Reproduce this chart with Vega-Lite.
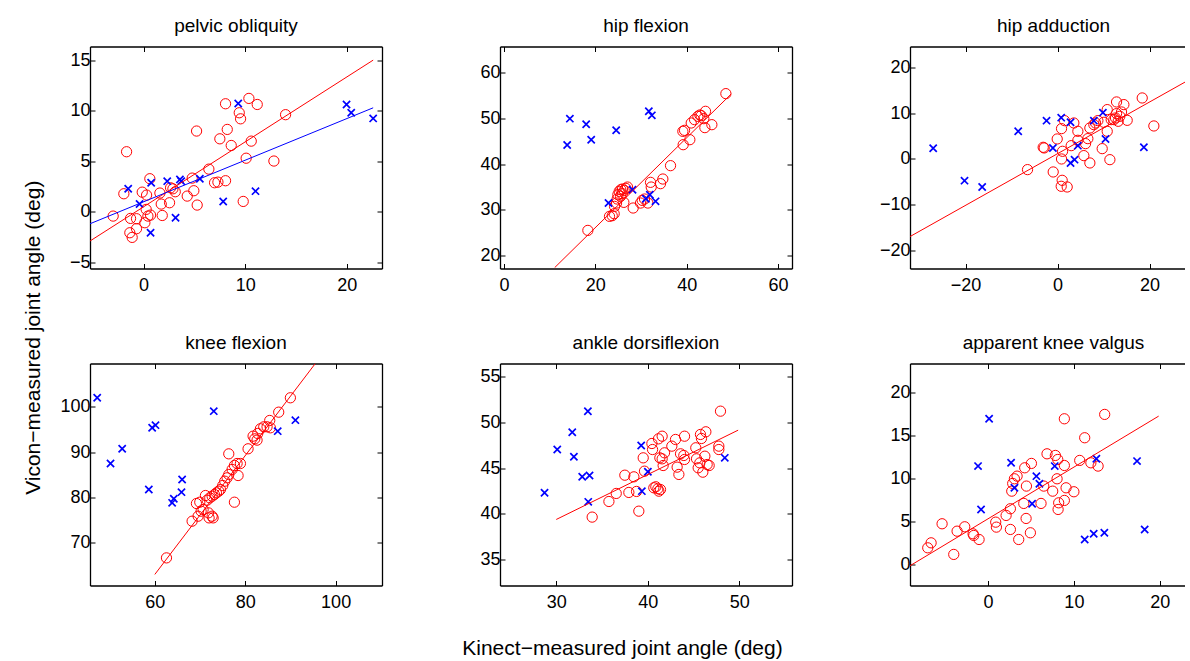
{
  "$schema": "https://vega.github.io/schema/vega-lite/v6.json",
  "background": "white",
  "padding": {"left": 22, "top": 16.5, "right": 0, "bottom": 0},
  "title": {"text": "Vicon−measured joint angle (deg)", "orient": "left", "anchor": "middle", "fontSize": 21, "offset": 16},
  "datasets": {
    "pelvis": [
      {"s":"o","x":-2.99,"y":-0.43},{"s":"o","x":-1.67,"y":5.94},{"s":"o","x":-1.94,"y":1.78},{"s":"o","x":-1.28,"y":-0.66},
      {"s":"o","x":-1.35,"y":-2.08},{"s":"o","x":-1.12,"y":-2.54},{"s":"o","x":-0.69,"y":-1.68},{"s":"o","x":-0.69,"y":-0.69},
      {"s":"o","x":-0.13,"y":1.94},{"s":"o","x":0.13,"y":-1.09},{"s":"o","x":0.26,"y":0.23},{"s":"o","x":0.3,"y":1.65},
      {"s":"o","x":0.43,"y":-0.43},{"s":"o","x":0.69,"y":-0.33},{"s":"o","x":0.62,"y":3.27},{"s":"o","x":1.61,"y":1.85},
      {"s":"o","x":1.74,"y":0.76},{"s":"o","x":1.84,"y":-0.37},{"s":"o","x":2.56,"y":0.89},{"s":"o","x":2.66,"y":2.37},
      {"s":"o","x":2.89,"y":2.27},{"s":"o","x":3.12,"y":1.98},{"s":"o","x":4.3,"y":1.55},{"s":"o","x":4.79,"y":3.33},
      {"s":"o","x":4.95,"y":2.08},{"s":"o","x":5.22,"y":7.99},{"s":"o","x":5.28,"y":0.66},{"s":"o","x":6.43,"y":4.22},
      {"s":"o","x":6.99,"y":2.87},{"s":"o","x":7.32,"y":2.93},{"s":"o","x":8.07,"y":3.07},{"s":"o","x":7.51,"y":7.22},
      {"s":"o","x":8.07,"y":10.69},{"s":"o","x":8.24,"y":8.15},{"s":"o","x":8.63,"y":6.56},{"s":"o","x":9.42,"y":9.8},
      {"s":"o","x":9.55,"y":9.2},{"s":"o","x":9.81,"y":1.02},{"s":"o","x":10.1,"y":5.3},{"s":"o","x":10.37,"y":11.22},
      {"s":"o","x":10.6,"y":6.99},{"s":"o","x":11.19,"y":10.62},{"s":"o","x":12.83,"y":5.02},{"s":"o","x":13.98,"y":9.61},
      {"s":"x","x":-1.51,"y":2.27},{"s":"x","x":-0.39,"y":0.76},{"s":"x","x":0.75,"y":2.87},{"s":"x","x":0.69,"y":-2.08},
      {"s":"x","x":2.33,"y":3.03},{"s":"x","x":3.15,"y":-0.6},{"s":"x","x":3.58,"y":3.2},{"s":"x","x":3.71,"y":3.03},
      {"s":"x","x":5.54,"y":3.27},{"s":"x","x":7.84,"y":1.02},{"s":"x","x":9.32,"y":10.72},{"s":"x","x":11.02,"y":2.04},
      {"s":"x","x":19.98,"y":10.62},{"s":"x","x":20.44,"y":9.8},{"s":"x","x":22.6,"y":9.24}
    ],
    "pelvisFit": [
      {"s":"o","x":-5.27,"y":-2.9},{"s":"o","x":22.6,"y":15.01},
      {"s":"x","x":-5.27,"y":-1.19},{"s":"x","x":22.6,"y":10.29}
    ],
    "hipFlex": [
      {"s":"o","x":18.36,"y":25.46},{"s":"o","x":23.1,"y":28.54},{"s":"o","x":23.69,"y":28.68},{"s":"o","x":24.12,"y":29.12},
      {"s":"o","x":24.2,"y":30.73},{"s":"o","x":24.78,"y":32.34},{"s":"o","x":24.93,"y":33.29},{"s":"o","x":25.22,"y":34.02},
      {"s":"o","x":25.58,"y":34.39},{"s":"o","x":25.95,"y":34.54},{"s":"o","x":26.31,"y":34.24},{"s":"o","x":26.68,"y":34.68},
      {"s":"o","x":27.04,"y":34.97},{"s":"o","x":25.51,"y":32.93},{"s":"o","x":25.88,"y":33.51},{"s":"o","x":26.24,"y":31.61},
      {"s":"o","x":24.64,"y":31.46},{"s":"o","x":28.28,"y":30.37},{"s":"o","x":29.89,"y":31.46},{"s":"o","x":30.26,"y":32.05},
      {"s":"o","x":30.77,"y":32.34},{"s":"o","x":31.5,"y":31.46},{"s":"o","x":32.08,"y":36.0},{"s":"o","x":32.23,"y":34.97},
      {"s":"o","x":34.27,"y":35.71},{"s":"o","x":34.78,"y":36.73},{"s":"o","x":36.46,"y":39.66},{"s":"o","x":39.23,"y":44.26},
      {"s":"o","x":39.16,"y":47.19},{"s":"o","x":39.53,"y":47.41},{"s":"o","x":40.69,"y":45.36},{"s":"o","x":40.99,"y":49.02},
      {"s":"o","x":41.72,"y":49.75},{"s":"o","x":42.45,"y":50.48},{"s":"o","x":42.88,"y":50.78},{"s":"o","x":43.18,"y":50.63},
      {"s":"o","x":43.75,"y":49.97},{"s":"o","x":44.12,"y":51.58},{"s":"o","x":43.98,"y":48.0},{"s":"o","x":45.51,"y":48.65},
      {"s":"o","x":48.58,"y":55.46},
      {"s":"x","x":14.42,"y":49.97},{"s":"x","x":13.83,"y":44.19},{"s":"x","x":17.99,"y":48.73},{"s":"x","x":19.09,"y":45.36},
      {"s":"x","x":24.56,"y":47.41},{"s":"x","x":22.88,"y":31.46},{"s":"x","x":28.14,"y":34.39},{"s":"x","x":31.06,"y":32.41},
      {"s":"x","x":31.93,"y":33.29},{"s":"x","x":33.18,"y":31.83},{"s":"x","x":31.71,"y":51.58},{"s":"x","x":32.37,"y":50.7}
    ],
    "hipFlexFit": [
      {"s":"o","x":11.1,"y":17.3},{"s":"o","x":49.74,"y":55.38}
    ],
    "hipAdd": [
      {"s":"o","x":-6.52,"y":-2.32},{"s":"o","x":-3.12,"y":2.54},{"s":"o","x":-2.9,"y":2.4},{"s":"o","x":-0.94,"y":-2.83},
      {"s":"o","x":-0.07,"y":4.36},{"s":"o","x":0.87,"y":6.61},{"s":"o","x":0.87,"y":0.0},{"s":"o","x":1.09,"y":1.67},
      {"s":"o","x":1.01,"y":-4.65},{"s":"o","x":0.8,"y":-5.95},{"s":"o","x":2.1,"y":-6.1},{"s":"o","x":1.52,"y":8.35},
      {"s":"o","x":3.55,"y":7.84},{"s":"o","x":4.42,"y":6.03},{"s":"o","x":2.97,"y":2.9},{"s":"o","x":4.42,"y":4.07},
      {"s":"o","x":5.72,"y":0.73},{"s":"o","x":6.09,"y":3.34},{"s":"o","x":6.59,"y":4.43},{"s":"o","x":7.03,"y":-0.87},
      {"s":"o","x":7.03,"y":6.75},{"s":"o","x":7.9,"y":7.48},{"s":"o","x":8.26,"y":7.84},{"s":"o","x":8.77,"y":8.35},
      {"s":"o","x":9.71,"y":2.25},{"s":"o","x":10.07,"y":7.99},{"s":"o","x":10.8,"y":10.75},{"s":"o","x":10.8,"y":6.03},
      {"s":"o","x":11.38,"y":-0.15},{"s":"o","x":11.67,"y":8.57},{"s":"o","x":12.25,"y":8.57},{"s":"o","x":12.61,"y":8.93},
      {"s":"o","x":12.83,"y":12.42},{"s":"o","x":12.83,"y":9.88},{"s":"o","x":13.19,"y":8.21},{"s":"o","x":13.55,"y":9.3},
      {"s":"o","x":13.91,"y":10.24},{"s":"o","x":14.42,"y":11.84},{"s":"o","x":15.14,"y":8.42},{"s":"o","x":18.41,"y":13.29},
      {"s":"o","x":20.94,"y":7.19},
      {"s":"x","x":-27.03,"y":2.32},{"s":"x","x":-20.22,"y":-4.72},{"s":"x","x":-16.38,"y":-6.1},{"s":"x","x":-8.55,"y":6.03},
      {"s":"x","x":-2.39,"y":8.35},{"s":"x","x":-1.01,"y":2.4},{"s":"x","x":0.8,"y":9.0},{"s":"x","x":2.83,"y":7.99},
      {"s":"x","x":2.83,"y":-0.87},{"s":"x","x":3.7,"y":-0.15},{"s":"x","x":4.42,"y":2.9},{"s":"x","x":7.9,"y":8.35},
      {"s":"x","x":9.86,"y":10.09},{"s":"x","x":10.43,"y":4.36},{"s":"x","x":18.77,"y":2.54}
    ],
    "hipAddFit": [
      {"s":"o","x":-32.07,"y":-16.9},{"s":"o","x":32.0,"y":19.16}
    ],
    "knee": [
      {"s":"o","x":62.58,"y":66.69},{"s":"o","x":68.25,"y":74.78},{"s":"o","x":69.21,"y":78.68},{"s":"o","x":69.95,"y":78.97},
      {"s":"o","x":69.58,"y":75.88},{"s":"o","x":70.24,"y":76.99},{"s":"o","x":70.69,"y":77.35},{"s":"o","x":71.2,"y":80.44},
      {"s":"o","x":71.57,"y":79.41},{"s":"o","x":71.86,"y":76.62},{"s":"o","x":72.01,"y":75.51},{"s":"o","x":72.68,"y":75.88},
      {"s":"o","x":72.9,"y":75.51},{"s":"o","x":72.16,"y":79.93},{"s":"o","x":72.68,"y":80.29},{"s":"o","x":73.19,"y":80.66},
      {"s":"o","x":73.63,"y":81.03},{"s":"o","x":74.15,"y":81.4},{"s":"o","x":74.52,"y":81.76},{"s":"o","x":75.03,"y":82.65},
      {"s":"o","x":75.47,"y":83.6},{"s":"o","x":75.99,"y":84.34},{"s":"o","x":76.36,"y":85.07},{"s":"o","x":76.36,"y":89.63},
      {"s":"o","x":77.1,"y":86.18},{"s":"o","x":77.61,"y":87.06},{"s":"o","x":78.2,"y":87.5},{"s":"o","x":78.94,"y":87.5},
      {"s":"o","x":78.42,"y":84.85},{"s":"o","x":77.61,"y":78.97},{"s":"o","x":80.63,"y":90.74},{"s":"o","x":81.74,"y":93.53},
      {"s":"o","x":82.11,"y":92.94},{"s":"o","x":82.62,"y":92.65},{"s":"o","x":82.77,"y":94.12},{"s":"o","x":83.36,"y":95.15},
      {"s":"o","x":84.1,"y":95.59},{"s":"o","x":84.83,"y":95.59},{"s":"o","x":85.57,"y":95.37},{"s":"o","x":85.42,"y":96.99},
      {"s":"o","x":87.41,"y":98.82},{"s":"o","x":89.99,"y":101.99},
      {"s":"x","x":47.25,"y":101.99},{"s":"x","x":50.2,"y":87.5},{"s":"x","x":52.78,"y":90.74},{"s":"x","x":58.67,"y":81.76},
      {"s":"x","x":59.41,"y":95.37},{"s":"x","x":60.15,"y":95.96},{"s":"x","x":63.83,"y":78.82},{"s":"x","x":64.2,"y":79.71},
      {"s":"x","x":66.04,"y":83.97},{"s":"x","x":65.9,"y":81.18},{"s":"x","x":73.04,"y":99.04},{"s":"x","x":87.19,"y":94.63},
      {"s":"x","x":91.1,"y":97.06}
    ],
    "kneeFit": [
      {"s":"o","x":60.0,"y":63.04},{"s":"o","x":95.52,"y":109.56}
    ],
    "ankle": [
      {"s":"o","x":33.93,"y":39.64},{"s":"o","x":35.76,"y":41.35},{"s":"o","x":36.56,"y":42.23},{"s":"o","x":37.5,"y":44.23},
      {"s":"o","x":37.94,"y":42.34},{"s":"o","x":38.49,"y":44.05},{"s":"o","x":38.78,"y":42.45},{"s":"o","x":39.03,"y":40.29},
      {"s":"o","x":39.51,"y":46.13},{"s":"o","x":39.65,"y":44.67},{"s":"o","x":40.46,"y":47.7},{"s":"o","x":40.53,"y":47.04},
      {"s":"o","x":40.67,"y":42.85},{"s":"o","x":40.89,"y":42.96},{"s":"o","x":41.11,"y":42.74},{"s":"o","x":41.18,"y":48.21},
      {"s":"o","x":41.58,"y":48.5},{"s":"o","x":41.33,"y":46.13},{"s":"o","x":41.58,"y":46.02},{"s":"o","x":41.69,"y":45.29},
      {"s":"o","x":41.84,"y":46.68},{"s":"o","x":41.22,"y":42.48},{"s":"o","x":41.4,"y":42.66},{"s":"o","x":42.64,"y":47.41},
      {"s":"o","x":43.04,"y":48.14},{"s":"o","x":43.22,"y":45.11},{"s":"o","x":43.41,"y":44.31},{"s":"o","x":43.59,"y":46.57},
      {"s":"o","x":43.95,"y":46.39},{"s":"o","x":44.03,"y":48.5},{"s":"o","x":44.03,"y":45.95},{"s":"o","x":45.26,"y":47.23},
      {"s":"o","x":45.34,"y":46.02},{"s":"o","x":45.52,"y":45.04},{"s":"o","x":45.7,"y":45.58},{"s":"o","x":45.77,"y":48.69},
      {"s":"o","x":45.88,"y":48.25},{"s":"o","x":46.03,"y":44.56},{"s":"o","x":46.25,"y":46.31},{"s":"o","x":46.36,"y":48.98},
      {"s":"o","x":46.5,"y":45.4},{"s":"o","x":46.72,"y":45.29},{"s":"o","x":47.78,"y":47.41},{"s":"o","x":47.78,"y":47.04},
      {"s":"o","x":47.96,"y":51.24},
      {"s":"x","x":28.72,"y":42.3},{"s":"x","x":30.11,"y":47.04},{"s":"x","x":31.75,"y":48.94},{"s":"x","x":31.93,"y":46.24},
      {"s":"x","x":32.84,"y":44.05},{"s":"x","x":33.64,"y":44.2},{"s":"x","x":33.46,"y":51.24},{"s":"x","x":33.5,"y":41.31},
      {"s":"x","x":39.29,"y":47.48},{"s":"x","x":39.36,"y":42.48},{"s":"x","x":40.02,"y":44.6},{"s":"x","x":48.43,"y":46.13}
    ],
    "ankleFit": [
      {"s":"o","x":30.0,"y":39.38},{"s":"o","x":49.89,"y":49.16}
    ],
    "valgus": [
      {"s":"o","x":-7.03,"y":1.94},{"s":"o","x":-6.64,"y":2.52},{"s":"o","x":-5.36,"y":4.74},{"s":"o","x":-4.0,"y":1.17},
      {"s":"o","x":-3.61,"y":3.88},{"s":"o","x":-2.72,"y":4.39},{"s":"o","x":-1.75,"y":3.57},{"s":"o","x":-1.67,"y":3.38},
      {"s":"o","x":-1.05,"y":2.91},{"s":"o","x":0.89,"y":4.93},{"s":"o","x":0.97,"y":4.35},{"s":"o","x":2.1,"y":5.71},
      {"s":"o","x":2.6,"y":6.49},{"s":"o","x":2.6,"y":4.08},{"s":"o","x":2.76,"y":8.54},{"s":"o","x":2.87,"y":9.44},
      {"s":"o","x":3.07,"y":9.98},{"s":"o","x":3.38,"y":10.29},{"s":"o","x":3.57,"y":2.91},{"s":"o","x":4.16,"y":7.11},
      {"s":"o","x":4.27,"y":11.26},{"s":"o","x":4.43,"y":5.36},{"s":"o","x":4.47,"y":9.13},{"s":"o","x":4.93,"y":3.69},
      {"s":"o","x":5.05,"y":11.77},{"s":"o","x":6.17,"y":7.11},{"s":"o","x":6.49,"y":9.13},{"s":"o","x":6.87,"y":12.89},
      {"s":"o","x":7.53,"y":8.54},{"s":"o","x":7.84,"y":12.7},{"s":"o","x":8.12,"y":12.23},{"s":"o","x":8.04,"y":9.98},
      {"s":"o","x":8.23,"y":7.18},{"s":"o","x":8.16,"y":6.41},{"s":"o","x":8.89,"y":11.53},{"s":"o","x":8.89,"y":16.97},
      {"s":"o","x":8.89,"y":7.46},{"s":"o","x":9.09,"y":8.93},{"s":"o","x":10.0,"y":8.47},{"s":"o","x":10.68,"y":12.12},
      {"s":"o","x":11.26,"y":14.76},{"s":"o","x":11.98,"y":11.84},{"s":"o","x":12.82,"y":11.46},{"s":"o","x":13.59,"y":17.48},
      {"s":"x","x":-1.17,"y":11.46},{"s":"x","x":-0.82,"y":6.41},{"s":"x","x":0.12,"y":16.97},{"s":"x","x":2.68,"y":11.84},
      {"s":"x","x":3.07,"y":8.93},{"s":"x","x":5.13,"y":7.07},{"s":"x","x":5.63,"y":10.29},{"s":"x","x":5.98,"y":9.4},
      {"s":"x","x":7.77,"y":11.46},{"s":"x","x":11.26,"y":2.91},{"s":"x","x":12.31,"y":3.57},{"s":"x","x":12.62,"y":12.31},
      {"s":"x","x":13.55,"y":3.69},{"s":"x","x":17.36,"y":12.04},{"s":"x","x":18.25,"y":4.08}
    ],
    "valgusFit": [
      {"s":"o","x":-9.1,"y":-0.15},{"s":"o","x":19.88,"y":17.28}
    ]
  },
  "vconcat": [
    {
      "title": {"text": "Kinect−measured joint angle (deg)", "orient": "bottom", "anchor": "middle", "fontSize": 21, "offset": 26},
      "columns": 3,
      "spacing": {"row": 95, "column": 118},
      "bounds": "flush",
      "concat": [
        {
          "title": "pelvic obliquity",
          "width": 292, "height": 222,
          "resolve": {"axis": {"x": "independent", "y": "independent"}},
          "layer": [
            {"data": {"name": "pelvis"}, "transform": [{"filter": "datum.s == 'o'"}],
             "mark": {"type": "point", "shape": "circle", "size": 105, "strokeWidth": 1, "color": "#ff0000", "filled": false, "opacity": 1},
             "encoding": {
               "x": {"field": "x", "type": "quantitative", "scale": {"domain": [-5.27, 23.47], "nice": false, "zero": false}, "axis": {"orient": "bottom", "values": [0, 10, 20], "title": null}},
               "y": {"field": "y", "type": "quantitative", "scale": {"domain": [-5.62, 16.36], "nice": false, "zero": false}, "axis": {"orient": "left", "values": [-5, 0, 5, 10, 15], "title": null}}}},
            {"data": {"name": "pelvis"}, "transform": [{"filter": "datum.s == 'x'"}],
             "mark": {"type": "point", "shape": "M-1,-1L1,1M-1,1L1,-1", "size": 52, "strokeWidth": 1.7, "color": "#0000ff", "filled": false, "opacity": 1},
             "encoding": {
               "x": {"field": "x", "type": "quantitative", "scale": {"domain": [-5.27, 23.47], "nice": false, "zero": false}, "axis": {"orient": "top", "values": [0, 10, 20], "labels": false, "title": null}},
               "y": {"field": "y", "type": "quantitative", "scale": {"domain": [-5.62, 16.36], "nice": false, "zero": false}, "axis": {"orient": "right", "values": [-5, 0, 5, 10, 15], "labels": false, "title": null}}}},
            {"data": {"name": "pelvisFit"}, "transform": [{"filter": "datum.s == 'o'"}],
             "mark": {"type": "line", "strokeWidth": 1, "clip": true, "color": "#ff0000"},
             "encoding": {
               "x": {"field": "x", "type": "quantitative", "scale": {"domain": [-5.27, 23.47], "nice": false, "zero": false}, "axis": null},
               "y": {"field": "y", "type": "quantitative", "scale": {"domain": [-5.62, 16.36], "nice": false, "zero": false}, "axis": null}}},
            {"data": {"name": "pelvisFit"}, "transform": [{"filter": "datum.s == 'x'"}],
             "mark": {"type": "line", "strokeWidth": 1, "clip": true, "color": "#0000ff"},
             "encoding": {
               "x": {"field": "x", "type": "quantitative", "scale": {"domain": [-5.27, 23.47], "nice": false, "zero": false}, "axis": null},
               "y": {"field": "y", "type": "quantitative", "scale": {"domain": [-5.62, 16.36], "nice": false, "zero": false}, "axis": null}}}
          ]
        },
        {
          "title": "hip flexion",
          "width": 292, "height": 222,
          "resolve": {"axis": {"x": "independent", "y": "independent"}},
          "layer": [
            {"data": {"name": "hipFlex"}, "transform": [{"filter": "datum.s == 'o'"}],
             "mark": {"type": "point", "shape": "circle", "size": 105, "strokeWidth": 1, "color": "#ff0000", "filled": false, "opacity": 1},
             "encoding": {
               "x": {"field": "x", "type": "quantitative", "scale": {"domain": [-0.88, 63.06], "nice": false, "zero": false}, "axis": {"orient": "bottom", "values": [0, 20, 40, 60], "title": null}},
               "y": {"field": "y", "type": "quantitative", "scale": {"domain": [17.1, 65.8], "nice": false, "zero": false}, "axis": {"orient": "left", "values": [20, 30, 40, 50, 60], "title": null}}}},
            {"data": {"name": "hipFlex"}, "transform": [{"filter": "datum.s == 'x'"}],
             "mark": {"type": "point", "shape": "M-1,-1L1,1M-1,1L1,-1", "size": 52, "strokeWidth": 1.7, "color": "#0000ff", "filled": false, "opacity": 1},
             "encoding": {
               "x": {"field": "x", "type": "quantitative", "scale": {"domain": [-0.88, 63.06], "nice": false, "zero": false}, "axis": {"orient": "top", "values": [0, 20, 40, 60], "labels": false, "title": null}},
               "y": {"field": "y", "type": "quantitative", "scale": {"domain": [17.1, 65.8], "nice": false, "zero": false}, "axis": {"orient": "right", "values": [20, 30, 40, 50, 60], "labels": false, "title": null}}}},
            {"data": {"name": "hipFlexFit"},
             "mark": {"type": "line", "strokeWidth": 1, "clip": true, "color": "#ff0000"},
             "encoding": {
               "x": {"field": "x", "type": "quantitative", "scale": {"domain": [-0.88, 63.06], "nice": false, "zero": false}, "axis": null},
               "y": {"field": "y", "type": "quantitative", "scale": {"domain": [17.1, 65.8], "nice": false, "zero": false}, "axis": null}}}
          ]
        },
        {
          "title": {"text": "hip adduction", "dx": 6},
          "width": 275, "height": 222,
          "resolve": {"axis": {"x": "independent", "y": "independent"}},
          "layer": [
            {"data": {"name": "hipAdd"}, "transform": [{"filter": "datum.s == 'o'"}],
             "mark": {"type": "point", "shape": "circle", "size": 105, "strokeWidth": 1, "color": "#ff0000", "filled": false, "opacity": 1},
             "encoding": {
               "x": {"field": "x", "type": "quantitative", "scale": {"domain": [-32.07, 27.71], "nice": false, "zero": false}, "axis": {"orient": "bottom", "values": [-20, 0, 20], "title": null}},
               "y": {"field": "y", "type": "quantitative", "scale": {"domain": [-23.86, 24.5], "nice": false, "zero": false}, "axis": {"orient": "left", "values": [-20, -10, 0, 10, 20], "title": null}}}},
            {"data": {"name": "hipAdd"}, "transform": [{"filter": "datum.s == 'x'"}],
             "mark": {"type": "point", "shape": "M-1,-1L1,1M-1,1L1,-1", "size": 52, "strokeWidth": 1.7, "color": "#0000ff", "filled": false, "opacity": 1},
             "encoding": {
               "x": {"field": "x", "type": "quantitative", "scale": {"domain": [-32.07, 27.71], "nice": false, "zero": false}, "axis": {"orient": "top", "values": [-20, 0, 20], "labels": false, "title": null}},
               "y": {"field": "y", "type": "quantitative", "scale": {"domain": [-23.86, 24.5], "nice": false, "zero": false}, "axis": null}}},
            {"data": {"name": "hipAddFit"},
             "mark": {"type": "line", "strokeWidth": 1, "clip": true, "color": "#ff0000"},
             "encoding": {
               "x": {"field": "x", "type": "quantitative", "scale": {"domain": [-32.07, 27.71], "nice": false, "zero": false}, "axis": null},
               "y": {"field": "y", "type": "quantitative", "scale": {"domain": [-23.86, 24.5], "nice": false, "zero": false}, "axis": null}}}
          ]
        },
        {
          "title": "knee flexion",
          "width": 292, "height": 222,
          "resolve": {"axis": {"x": "independent", "y": "independent"}},
          "layer": [
            {"data": {"name": "knee"}, "transform": [{"filter": "datum.s == 'o'"}],
             "mark": {"type": "point", "shape": "circle", "size": 105, "strokeWidth": 1, "color": "#ff0000", "filled": false, "opacity": 1},
             "encoding": {
               "x": {"field": "x", "type": "quantitative", "scale": {"domain": [45.66, 110.26], "nice": false, "zero": false}, "axis": {"orient": "bottom", "values": [60, 80, 100], "title": null}},
               "y": {"field": "y", "type": "quantitative", "scale": {"domain": [60.6, 109.55], "nice": false, "zero": false}, "axis": {"orient": "left", "values": [70, 80, 90, 100], "title": null}}}},
            {"data": {"name": "knee"}, "transform": [{"filter": "datum.s == 'x'"}],
             "mark": {"type": "point", "shape": "M-1,-1L1,1M-1,1L1,-1", "size": 52, "strokeWidth": 1.7, "color": "#0000ff", "filled": false, "opacity": 1},
             "encoding": {
               "x": {"field": "x", "type": "quantitative", "scale": {"domain": [45.66, 110.26], "nice": false, "zero": false}, "axis": {"orient": "top", "values": [60, 80, 100], "labels": false, "title": null}},
               "y": {"field": "y", "type": "quantitative", "scale": {"domain": [60.6, 109.55], "nice": false, "zero": false}, "axis": {"orient": "right", "values": [70, 80, 90, 100], "labels": false, "title": null}}}},
            {"data": {"name": "kneeFit"},
             "mark": {"type": "line", "strokeWidth": 1, "clip": true, "color": "#ff0000"},
             "encoding": {
               "x": {"field": "x", "type": "quantitative", "scale": {"domain": [45.66, 110.26], "nice": false, "zero": false}, "axis": null},
               "y": {"field": "y", "type": "quantitative", "scale": {"domain": [60.6, 109.55], "nice": false, "zero": false}, "axis": null}}}
          ]
        },
        {
          "title": "ankle dorsiflexion",
          "width": 292, "height": 222,
          "resolve": {"axis": {"x": "independent", "y": "independent"}},
          "layer": [
            {"data": {"name": "ankle"}, "transform": [{"filter": "datum.s == 'o'"}],
             "mark": {"type": "point", "shape": "circle", "size": 105, "strokeWidth": 1, "color": "#ff0000", "filled": false, "opacity": 1},
             "encoding": {
               "x": {"field": "x", "type": "quantitative", "scale": {"domain": [23.85, 55.78], "nice": false, "zero": false}, "axis": {"orient": "bottom", "values": [30, 40, 50], "title": null}},
               "y": {"field": "y", "type": "quantitative", "scale": {"domain": [32.15, 56.46], "nice": false, "zero": false}, "axis": {"orient": "left", "values": [35, 40, 45, 50, 55], "title": null}}}},
            {"data": {"name": "ankle"}, "transform": [{"filter": "datum.s == 'x'"}],
             "mark": {"type": "point", "shape": "M-1,-1L1,1M-1,1L1,-1", "size": 52, "strokeWidth": 1.7, "color": "#0000ff", "filled": false, "opacity": 1},
             "encoding": {
               "x": {"field": "x", "type": "quantitative", "scale": {"domain": [23.85, 55.78], "nice": false, "zero": false}, "axis": {"orient": "top", "values": [30, 40, 50], "labels": false, "title": null}},
               "y": {"field": "y", "type": "quantitative", "scale": {"domain": [32.15, 56.46], "nice": false, "zero": false}, "axis": {"orient": "right", "values": [35, 40, 45, 50, 55], "labels": false, "title": null}}}},
            {"data": {"name": "ankleFit"},
             "mark": {"type": "line", "strokeWidth": 1, "clip": true, "color": "#ff0000"},
             "encoding": {
               "x": {"field": "x", "type": "quantitative", "scale": {"domain": [23.85, 55.78], "nice": false, "zero": false}, "axis": null},
               "y": {"field": "y", "type": "quantitative", "scale": {"domain": [32.15, 56.46], "nice": false, "zero": false}, "axis": null}}}
          ]
        },
        {
          "title": {"text": "apparent knee valgus", "dx": 6},
          "width": 275, "height": 222,
          "resolve": {"axis": {"x": "independent", "y": "independent"}},
          "layer": [
            {"data": {"name": "valgus"}, "transform": [{"filter": "datum.s == 'o'"}],
             "mark": {"type": "point", "shape": "circle", "size": 105, "strokeWidth": 1, "color": "#ff0000", "filled": false, "opacity": 1},
             "encoding": {
               "x": {"field": "x", "type": "quantitative", "scale": {"domain": [-9.1, 22.95], "nice": false, "zero": false}, "axis": {"orient": "bottom", "values": [0, 10, 20], "title": null}},
               "y": {"field": "y", "type": "quantitative", "scale": {"domain": [-2.45, 23.41], "nice": false, "zero": false}, "axis": {"orient": "left", "values": [0, 5, 10, 15, 20], "title": null}}}},
            {"data": {"name": "valgus"}, "transform": [{"filter": "datum.s == 'x'"}],
             "mark": {"type": "point", "shape": "M-1,-1L1,1M-1,1L1,-1", "size": 52, "strokeWidth": 1.7, "color": "#0000ff", "filled": false, "opacity": 1},
             "encoding": {
               "x": {"field": "x", "type": "quantitative", "scale": {"domain": [-9.1, 22.95], "nice": false, "zero": false}, "axis": {"orient": "top", "values": [0, 10, 20], "labels": false, "title": null}},
               "y": {"field": "y", "type": "quantitative", "scale": {"domain": [-2.45, 23.41], "nice": false, "zero": false}, "axis": null}}},
            {"data": {"name": "valgusFit"},
             "mark": {"type": "line", "strokeWidth": 1, "clip": true, "color": "#ff0000"},
             "encoding": {
               "x": {"field": "x", "type": "quantitative", "scale": {"domain": [-9.1, 22.95], "nice": false, "zero": false}, "axis": null},
               "y": {"field": "y", "type": "quantitative", "scale": {"domain": [-2.45, 23.41], "nice": false, "zero": false}, "axis": null}}}
          ]
        }
      ]
    }
  ],
  "config": {
    "font": "Liberation Sans",
    "view": {"stroke": null},
    "axis": {
      "domainColor": "#000000", "domainWidth": 1.3, "tickColor": "#000000", "tickWidth": 1, "tickSize": -5,
      "labelFont": "Liberation Sans", "labelFontSize": 18, "labelColor": "#000000", "grid": false
    },
    "axisLeft": {"labelPadding": 5},
    "axisBottom": {"labelPadding": 13},
    "title": {"font": "Liberation Sans", "fontSize": 19, "fontWeight": "normal", "color": "#000000", "offset": 10}
  }
}
